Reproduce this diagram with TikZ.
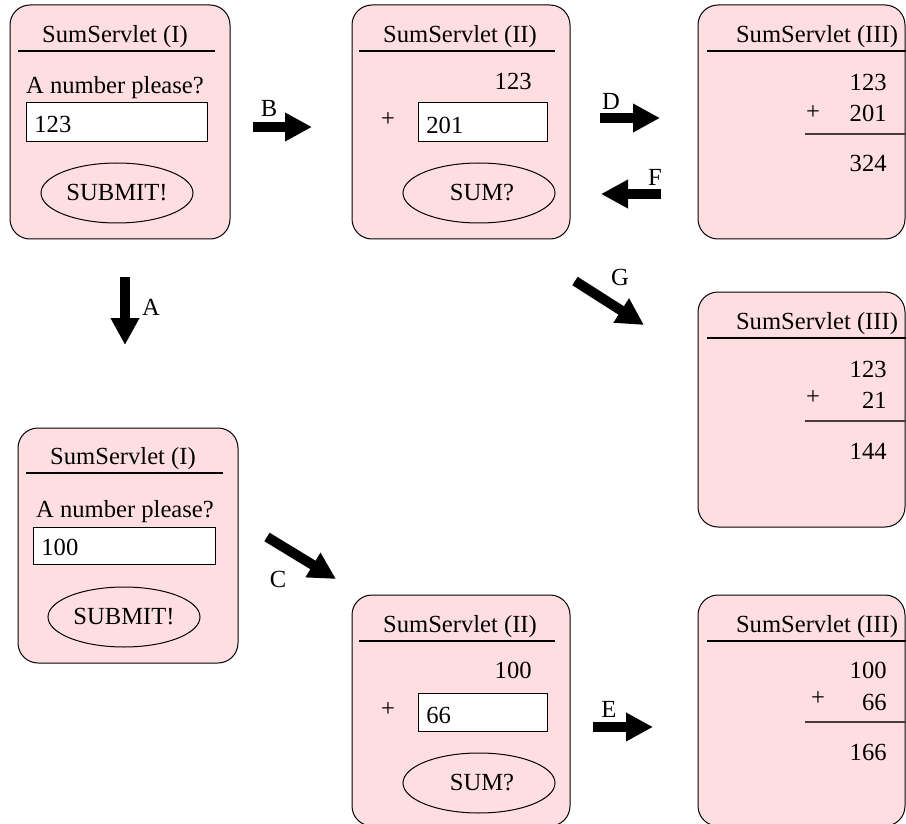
\documentclass[tikz,border=0pt]{standalone}
\usepackage{fontspec}
\setmainfont{Liberation Serif}
\usetikzlibrary{arrows.meta,shapes.geometric}
\definecolor{pinkfill}{RGB}{255,222,225}
\definecolor{ruleline}{RGB}{70,60,60}
\begin{document}
\begin{tikzpicture}[x=0.5pt,y=-0.5pt,
  every node/.style={font=\fontsize{12.3}{14}\selectfont, inner sep=0pt},
  panel/.style={draw=black, line width=0.5pt, fill=pinkfill, rounded corners=10pt},
  titlerule/.style={draw=black, line width=1.1pt},
  sumrule/.style={draw=ruleline, line width=0.6pt},
  field/.style={draw=black, line width=0.5pt, fill=white},
  button/.style={draw=black, line width=0.5pt, fill=pinkfill},
  blockarrow/.style={line width=5pt, -{Triangle[length=13.5pt,width=13.5pt]}},
  lbl/.style={font=\fontsize{12.3}{14}\selectfont}]
\useasboundingbox (0,0) rectangle (906,824);
\clip (0,0) rectangle (906,824);

% ---------- Panel 1 : SumServlet (I), 123
\draw[panel] (10,5) rectangle (230,239);
\node (t1) at (115,37) {SumServlet (I)};
\draw[titlerule] (18,51) -- (215,51);
\node (p1) at (115,88) {A number please?};
\draw[field] (26,103) rectangle (207,142);
\node[anchor=west] (v1) at (34,124) {123};
\draw[button] (117,193) ellipse [x radius=38pt, y radius=15pt];
\node (s1) at (117,193) {SUBMIT!};

% ---------- Panel 2 : SumServlet (II), 123 + 201
\draw[panel] (352,5) rectangle (570,239);
\node (t2) at (460,37) {SumServlet (II)};
\draw[titlerule] (359,51) -- (555,51);
\node[anchor=east] (a2) at (532,81) {123};
\node (pl2) at (388,120) {+};
\draw[field] (418,103) rectangle (547,142);
\node[anchor=west] (v2) at (426,125) {201};
\draw[button] (479,193) ellipse [x radius=38pt, y radius=15pt];
\node (s2) at (482,193) {SUM?};

% ---------- Panel 3 : SumServlet (III), 324
\draw[panel] (698,5) rectangle (905,239);
\node (t3) at (817,37) {SumServlet (III)};
\draw[titlerule] (707,51) -- (906,51);
\node[anchor=east] (a3) at (887,82) {123};
\node (pl3) at (813,113) {+};
\node[anchor=east] (b3) at (887,113) {201};
\draw[sumrule] (805,134) -- (906,134);
\node[anchor=east] (r3) at (887,163) {324};

% ---------- Panel G : SumServlet (III), 144
\draw[panel] (698,292) rectangle (905,527);
\node (tg) at (817,324) {SumServlet (III)};
\draw[titlerule] (707,338) -- (906,338);
\node[anchor=east] (ag) at (887,369) {123};
\node (plg) at (813,398) {+};
\node[anchor=east] (bg) at (887,400) {21};
\draw[sumrule] (805,421) -- (906,421);
\node[anchor=east] (rg) at (887,451) {144};

% ---------- Panel 4 : SumServlet (I), 100
\draw[panel] (18,428) rectangle (238,663);
\node (t4) at (123,459) {SumServlet (I)};
\draw[titlerule] (26,473) -- (223,473);
\node (p4) at (125,512) {A number please?};
\draw[field] (33,527) rectangle (215,564);
\node[anchor=west] (v4) at (41,547) {100};
\draw[button] (124,617) ellipse [x radius=38pt, y radius=15pt];
\node (s4) at (124,617) {SUBMIT!};

% ---------- Panel 5 : SumServlet (II), 100 + 66
\draw[panel] (352,595) rectangle (570,826);
\node (t5) at (460,627) {SumServlet (II)};
\draw[titlerule] (359,641) -- (555,641);
\node[anchor=east] (a5) at (532,670) {100};
\node (pl5) at (388,710) {+};
\draw[field] (418,693) rectangle (547,731);
\node[anchor=west] (v5) at (426,715) {66};
\draw[button] (479,783) ellipse [x radius=38pt, y radius=15pt];
\node (s5) at (482,783) {SUM?};

% ---------- Panel 6 : SumServlet (III), 166
\draw[panel] (698,595) rectangle (905,826);
\node (t6) at (817,627) {SumServlet (III)};
\draw[titlerule] (707,641) -- (906,641);
\node[anchor=east] (a6) at (887,670) {100};
\node (pl6) at (818,699) {+};
\node[anchor=east] (b6) at (887,702) {66};
\draw[sumrule] (805,722) -- (906,722);
\node[anchor=east] (r6) at (887,752) {166};

% ---------- Arrows
\coordinate (Bs) at (253,127); \coordinate (Be) at (312,127);
\draw[blockarrow] (Bs) -- (Be);
\node[lbl] (lB) at (269,108) {B};

\coordinate (Ds) at (600,118); \coordinate (De) at (660,118);
\draw[blockarrow] (Ds) -- (De);
\node[lbl] (lD) at (611,101) {D};

\coordinate (Fs) at (661,194); \coordinate (Fe) at (601,194);
\draw[blockarrow] (Fs) -- (Fe);
\node[lbl] (lF) at (655,177) {F};

\coordinate (As) at (125,277); \coordinate (Ae) at (125,345);
\draw[blockarrow] (As) -- (Ae);
\node[lbl] (lA) at (151,307) {A};

\coordinate (Cs) at (267,537); \coordinate (Ce) at (336,579);
\draw[blockarrow] (Cs) -- (Ce);
\node[lbl] (lC) at (278,579) {C};

\coordinate (Gs) at (575,281); \coordinate (Ge) at (644,325);
\draw[blockarrow] (Gs) -- (Ge);
\node[lbl] (lG) at (620,277) {G};

\coordinate (Es) at (593,727); \coordinate (Ee) at (653,727);
\draw[blockarrow] (Es) -- (Ee);
\node[lbl] (lE) at (609,709) {E};
\end{tikzpicture}
\end{document}
